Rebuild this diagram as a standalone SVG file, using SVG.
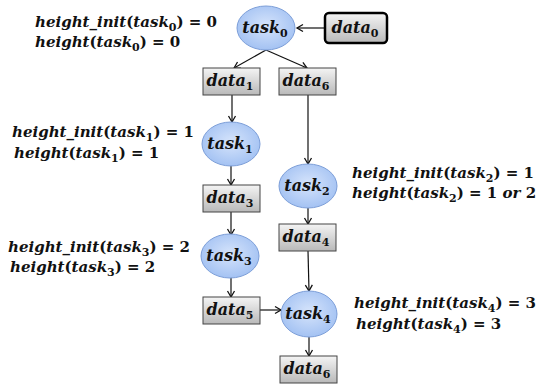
<svg xmlns="http://www.w3.org/2000/svg" width="538" height="384" viewBox="0 0 538 384">
<defs>
<radialGradient id="eg" cx="0.5" cy="0.45" r="0.6">
<stop offset="0" stop-color="#d6e4fb"/>
<stop offset="1" stop-color="#9fbff2"/>
</radialGradient>
<linearGradient id="bg" x1="0" y1="0" x2="0" y2="1">
<stop offset="0" stop-color="#f4f4f4"/>
<stop offset="1" stop-color="#b9b9b9"/>
</linearGradient>
<marker id="ah" markerWidth="10" markerHeight="10" refX="8" refY="5" orient="auto" markerUnits="userSpaceOnUse">
<path d="M2,1.5 L8,5 L2,8.5" fill="none" stroke="#111" stroke-width="1.3"/>
</marker>
</defs>
<style>
.t{font-family:"DejaVu Serif",serif;font-weight:bold;font-style:italic;font-size:15px;fill:#111}
.n{font-family:"DejaVu Serif",serif;font-weight:bold;font-style:italic;font-size:16px;fill:#111;text-anchor:middle}
.u{font-style:normal}
.s{font-style:normal;font-size:11px}
.el{fill:url(#eg);stroke:#7c9ed8;stroke-width:1}
.bx{fill:url(#bg);stroke:#444;stroke-width:1}
.c line{stroke:#111;stroke-width:1.2;marker-end:url(#ah)}
</style>
<g class="c" id="connectors">
<line x1="325" y1="28" x2="297" y2="28"/>
<line x1="266" y1="50" x2="234" y2="68"/>
<line x1="266" y1="50" x2="307" y2="68"/>
<line x1="232" y1="95" x2="232" y2="122"/>
<line x1="308" y1="95" x2="308" y2="164"/>
<line x1="231" y1="165" x2="231" y2="185"/>
<line x1="231" y1="212" x2="231" y2="235"/>
<line x1="308" y1="208" x2="308" y2="224"/>
<line x1="231" y1="277" x2="231" y2="297"/>
<line x1="308" y1="251" x2="309" y2="291"/>
<line x1="260" y1="310" x2="281" y2="310"/>
<line x1="309" y1="337" x2="309" y2="356"/>
</g>
<g id="task0"><ellipse class="el" cx="266" cy="28" rx="29" ry="22"/><text class="n" x="265" y="33">task<tspan class="s" dy="4">0</tspan></text></g>
<g id="data0"><rect x="325" y="13" width="62" height="30" rx="4" fill="url(#bg)" stroke="#000" stroke-width="2.5"/><text class="n" x="355" y="33">data<tspan class="s" dy="4">0</tspan></text></g>
<g id="data1"><rect class="bx" x="203" y="68" width="57" height="27"/><text class="n" x="230" y="86">data<tspan class="s" dy="4">1</tspan></text></g>
<g id="data6a"><rect class="bx" x="279" y="68" width="57" height="27"/><text class="n" x="306" y="86">data<tspan class="s" dy="4">6</tspan></text></g>
<g id="task1"><ellipse class="el" cx="231" cy="144" rx="29" ry="22"/><text class="n" x="230" y="149">task<tspan class="s" dy="4">1</tspan></text></g>
<g id="task2"><ellipse class="el" cx="308" cy="186" rx="29" ry="22"/><text class="n" x="307" y="191">task<tspan class="s" dy="4">2</tspan></text></g>
<g id="data3"><rect class="bx" x="203" y="185" width="57" height="27"/><text class="n" x="230" y="203">data<tspan class="s" dy="4">3</tspan></text></g>
<g id="data4"><rect class="bx" x="279" y="224" width="57" height="27"/><text class="n" x="306" y="242">data<tspan class="s" dy="4">4</tspan></text></g>
<g id="task3"><ellipse class="el" cx="230" cy="256" rx="29" ry="22"/><text class="n" x="229" y="261">task<tspan class="s" dy="4">3</tspan></text></g>
<g id="data5"><rect class="bx" x="203" y="297" width="57" height="27"/><text class="n" x="230" y="315">data<tspan class="s" dy="4">5</tspan></text></g>
<g id="task4"><ellipse class="el" cx="309" cy="314" rx="28" ry="23"/><text class="n" x="308" y="319">task<tspan class="s" dy="4">4</tspan></text></g>
<g id="data6b"><rect class="bx" x="280" y="356" width="57" height="27"/><text class="n" x="307" y="374">data<tspan class="s" dy="4">6</tspan></text></g>
<g id="labels">
<text class="t" x="35" y="27">height_init<tspan class="u">(</tspan>task<tspan class="s" dy="4">0</tspan><tspan class="u" dy="-4">) = 0</tspan></text>
<text class="t" x="35" y="47">height<tspan class="u">(</tspan>task<tspan class="s" dy="4">0</tspan><tspan class="u" dy="-4">) = 0</tspan></text>
<text class="t" x="12" y="137">height_init<tspan class="u">(</tspan>task<tspan class="s" dy="4">1</tspan><tspan class="u" dy="-4">) = 1</tspan></text>
<text class="t" x="14" y="158">height<tspan class="u">(</tspan>task<tspan class="s" dy="4">1</tspan><tspan class="u" dy="-4">) = 1</tspan></text>
<text class="t" x="352" y="178">height_init<tspan class="u">(</tspan>task<tspan class="s" dy="4">2</tspan><tspan class="u" dy="-4">) = 1</tspan></text>
<text class="t" x="352" y="198">height<tspan class="u">(</tspan>task<tspan class="s" dy="4">2</tspan><tspan class="u" dy="-4">) = 1 </tspan>or<tspan class="u"> 2</tspan></text>
<text class="t" x="8" y="252">height_init<tspan class="u">(</tspan>task<tspan class="s" dy="4">3</tspan><tspan class="u" dy="-4">) = 2</tspan></text>
<text class="t" x="10" y="272">height<tspan class="u">(</tspan>task<tspan class="s" dy="4">3</tspan><tspan class="u" dy="-4">) = 2</tspan></text>
<text class="t" x="354" y="308">height_init<tspan class="u">(</tspan>task<tspan class="s" dy="4">4</tspan><tspan class="u" dy="-4">) = 3</tspan></text>
<text class="t" x="356" y="329">height<tspan class="u">(</tspan>task<tspan class="s" dy="4">4</tspan><tspan class="u" dy="-4">) = 3</tspan></text>
</g>
</svg>
